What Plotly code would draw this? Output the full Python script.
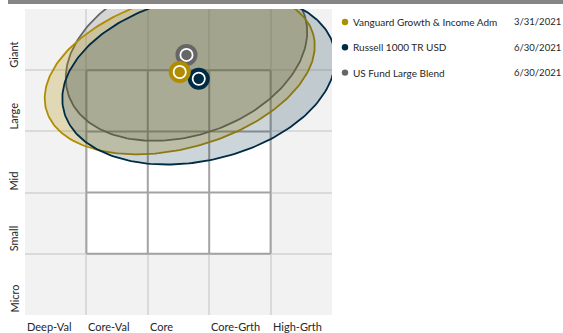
import numpy as np
import plotly.graph_objects as go

# ---------------- data ----------------
names = ["Vanguard Growth & Income Adm", "Russell 1000 TR USD", "US Fund Large Blend"]
dates = ["3/31/2021", "6/30/2021", "6/30/2021"]
colors = ["#b08c00", "#002b45", "#666666"]
fill_alpha = [0.25, 0.2, 0.2]
style_score = [2.52, 2.83, 2.63]      # horizontal: value -> growth (0..5)
size_score = [3.97, 3.86, 4.25]       # vertical: micro -> giant (0..5)
zone_major = [2.26, 2.26, 2.03]       # ownership-zone semi-axes
zone_minor = [1.24, 1.34, 1.31]
zone_angle = [16.0, 13.0, 19.0]       # degrees
x_labels = ["Deep-Val", "Core-Val", "Core", "Core-Grth", "High-Grth"]
y_labels = ["Micro", "Small", "Mid", "Large", "Giant"]

W, H = 563, 333
L, R, T, B = 25, 231, 9, 18
pw, ph = W - L - R, H - T - B
FONT = "Lato, 'Open Sans', sans-serif"


def rgba(hexc, a):
    h = hexc.lstrip("#")
    r, g, b = int(h[0:2], 16), int(h[2:4], 16), int(h[4:6], 16)
    return f"rgba({r},{g},{b},{a})"


def px_x(p):
    return (p - L) / pw


def px_y(p):
    return (H - B - p) / ph


fig = go.Figure()

# ownership zones (drawn gray, gold, navy)
t = np.linspace(0, 2 * np.pi, 241)
for i in [2, 0, 1]:
    th = np.radians(zone_angle[i])
    ex = zone_major[i] * np.cos(t)
    ey = zone_minor[i] * np.sin(t)
    xs = style_score[i] + ex * np.cos(th) - ey * np.sin(th)
    ys = size_score[i] + ex * np.sin(th) + ey * np.cos(th)
    fig.add_trace(go.Scatter(
        x=xs, y=ys, mode="lines", fill="toself",
        fillcolor=rgba(colors[i], fill_alpha[i]),
        line=dict(color=colors[i], width=1.8),
        hoverinfo="skip", showlegend=False))

# centroid markers
for i in [2, 1, 0]:
    fig.add_trace(go.Scatter(
        x=[style_score[i]], y=[size_score[i]], mode="markers",
        marker=dict(size=18, color="white", line=dict(color=colors[i], width=4)),
        hoverinfo="skip", showlegend=False))
    fig.add_trace(go.Scatter(
        x=[style_score[i]], y=[size_score[i]], mode="markers",
        marker=dict(size=10.5, color=colors[i], line=dict(width=0)),
        hoverinfo="skip", showlegend=False))

shapes = []
# white 3x3 style box
shapes.append(dict(type="rect", xref="x", yref="y", x0=1, x1=4, y0=1, y1=4,
                   fillcolor="white", line=dict(width=0), layer="between"))
for k in range(1, 5):
    shapes.append(dict(type="line", xref="x", yref="y", x0=k, x1=k, y0=1, y1=4,
                       line=dict(color="#a3a3a3", width=2), layer="between"))
    shapes.append(dict(type="line", xref="x", yref="y", x0=1, x1=4, y0=k, y1=k,
                       line=dict(color="#a3a3a3", width=2), layer="between"))
# top band
shapes.append(dict(type="rect", xref="paper", yref="paper",
                   x0=px_x(8), x1=px_x(W), y0=px_y(4), y1=px_y(0),
                   fillcolor="#858585", line=dict(width=0)))

annotations = []
for k, lab in enumerate(x_labels):
    annotations.append(dict(text=lab, xref="x", yref="paper", x=k, y=px_y(326),
                            xanchor="left", yanchor="middle", showarrow=False,
                            font=dict(family=FONT, size=11, color="#262626")))
for k, lab in enumerate(y_labels):
    annotations.append(dict(text=lab, xref="paper", yref="y", x=px_x(13.5), y=k,
                            xanchor="center", yanchor="bottom", textangle=-90,
                            showarrow=False,
                            font=dict(family=FONT, size=11, color="#262626")))

# legend (manual)
for i in range(3):
    yp = 22 + 25.3 * i
    shapes.append(dict(type="circle", xref="paper", yref="paper",
                       xsizemode="pixel", ysizemode="pixel",
                       xanchor=px_x(345), yanchor=px_y(yp),
                       x0=-3.2, x1=3.2, y0=-3.2, y1=3.2,
                       fillcolor=colors[i], line=dict(width=0)))
    annotations.append(dict(text=names[i], xref="paper", yref="paper",
                            x=px_x(351), y=px_y(yp), xanchor="left", yanchor="middle",
                            showarrow=False,
                            font=dict(family=FONT, size=10, color="#262626")))
    annotations.append(dict(text=dates[i], xref="paper", yref="paper",
                            x=px_x(512), y=px_y(yp), xanchor="left", yanchor="middle",
                            showarrow=False,
                            font=dict(family=FONT, size=9.5, color="#262626")))

fig.update_layout(
    width=W, height=H, margin=dict(l=L, r=R, t=T, b=B, pad=0),
    paper_bgcolor="white", plot_bgcolor="#f2f2f2",
    shapes=shapes, annotations=annotations, showlegend=False,
    xaxis=dict(range=[0, 5], tickvals=[1, 2, 3, 4], showticklabels=False,
               showgrid=True, gridcolor="#dadada", gridwidth=2, zeroline=False,
               showline=False, fixedrange=True),
    yaxis=dict(range=[0, 5], tickvals=[1, 2, 3, 4], showticklabels=False,
               showgrid=True, gridcolor="#dadada", gridwidth=2, zeroline=False,
               showline=False, fixedrange=True),
)

fig.write_html("out.html")
